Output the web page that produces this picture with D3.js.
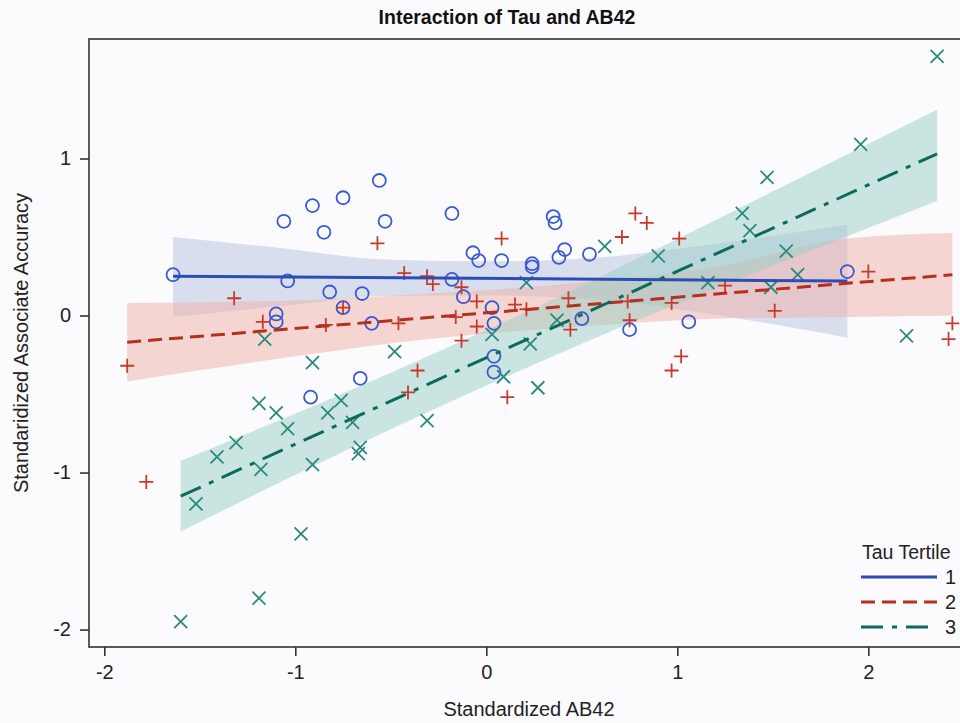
<!DOCTYPE html>
<html>
<head>
<meta charset="utf-8">
<script src="https://cdn.jsdelivr.net/npm/d3@7"></script>
<style>
body { margin: 0; background: #fbfbfd; }
text { font-family: Arial, "Liberation Sans", sans-serif; fill: #222; }
</style>
</head>
<body>
<svg id="chart" width="960" height="723"></svg>
<script>
// values
var xTicks = [-2, -1, 0, 1, 2];
var yTicks = [-2, -1, 0, 1];
var tertiles = ["1", "2", "3"];

var t1X = [-1.64,-1.04,-1.06,-0.91,-0.85,-0.75,-0.56,-0.53,-0.82,-0.65,-0.75,-1.10,-1.10,-0.60,-0.66,-0.92,-0.18,0.35,0.36,-0.07,-0.04,0.08,0.24,0.24,0.38,0.41,0.54,-0.18,-0.12,0.03,0.04,0.04,0.04,0.50,0.75,1.06,1.89];
var t1Y = [0.26,0.22,0.60,0.70,0.53,0.75,0.86,0.60,0.15,0.14,0.05,0.01,-0.04,-0.05,-0.40,-0.52,0.65,0.63,0.59,0.40,0.35,0.35,0.33,0.31,0.37,0.42,0.39,0.23,0.12,0.05,-0.05,-0.26,-0.36,-0.02,-0.09,-0.04,0.28];

var t2X = [-0.57,-1.32,-1.88,-1.17,-0.75,-0.84,-1.78,0.08,0.78,0.84,0.71,1.01,-0.43,-0.31,-0.28,-0.13,-0.05,0.15,0.21,-0.16,-0.46,-0.05,-0.13,-0.36,0.43,0.44,0.74,0.75,0.97,-0.41,0.11,1.02,0.97,1.25,1.51,2.00,2.44,2.42];
var t2Y = [0.46,0.11,-0.32,-0.04,0.05,-0.06,-1.06,0.49,0.65,0.59,0.50,0.49,0.27,0.25,0.20,0.18,0.09,0.07,0.04,-0.01,-0.05,-0.07,-0.16,-0.35,0.11,-0.09,0.09,-0.03,0.08,-0.49,-0.52,-0.26,-0.35,0.19,0.03,0.28,-0.05,-0.15];

var t3X = [2.36,1.96,1.47,1.34,1.38,1.57,1.63,1.49,1.16,2.20,0.62,0.90,0.21,0.37,0.03,0.23,-0.48,0.09,0.27,-0.31,-1.16,-0.91,-1.19,-1.10,-1.04,-0.83,-0.76,-0.70,-1.31,-1.41,-1.18,-0.91,-0.66,-0.67,-1.52,-0.97,-1.19,-1.60];
var t3Y = [1.65,1.09,0.88,0.65,0.54,0.41,0.26,0.18,0.21,-0.13,0.44,0.38,0.21,-0.03,-0.12,-0.18,-0.23,-0.39,-0.46,-0.67,-0.15,-0.30,-0.56,-0.62,-0.72,-0.62,-0.54,-0.68,-0.81,-0.90,-0.98,-0.95,-0.84,-0.88,-1.20,-1.39,-1.80,-1.95];

// regression lines (end points)
var fit1X = [-1.64, 1.89], fit1Y = [0.25, 0.22];
var fit2X = [-1.88, 2.44], fit2Y = [-0.17, 0.26];
var fit3X = [-1.60, 2.36], fit3Y = [-1.15, 1.03];

// confidence bands
var band1X  = [-1.64,-1.08,-0.51,0.02,0.59,1.22,1.89];
var band1Hi = [0.50,0.43,0.355,0.345,0.37,0.46,0.58];
var band1Lo = [-0.01,0.06,0.125,0.127,0.10,0.0,-0.14];
var band2X  = [-1.88,-1.0,-0.3,0.5,1.2,1.89,2.44];
var band2Hi = [0.08,0.095,0.14,0.21,0.31,0.49,0.525];
var band2Lo = [-0.42,-0.26,-0.15,-0.07,-0.02,-0.01,0.0];
var band3X  = [-1.60,-0.5,0.5,1.4,2.36];
var band3Hi = [-0.925,-0.365,0.19,0.73,1.31];
var band3Lo = [-1.375,-0.725,-0.18,0.27,0.73];

var svg = d3.select("#chart");
var pLeft = 89, pRight = 969, pTop = 39, pBottom = 647;

var x = d3.scaleLinear().domain([-2.08, 2.527]).range([pLeft, pRight]);
var y = d3.scaleLinear().domain([-2.111, 1.761]).range([pBottom, pTop]);

var groups = [
  {id: "1", xs: t1X, ys: t1Y, fx: fit1X, fy: fit1Y, bx: band1X, lo: band1Lo, hi: band1Hi,
   band: "#b6c2e0", marker: "#3a5ad0", line: "#2c4db3", dash: null, shape: "circle"},
  {id: "2", xs: t2X, ys: t2Y, fx: fit2X, fy: fit2Y, bx: band2X, lo: band2Lo, hi: band2Hi,
   band: "#efb0a6", marker: "#c63b2b", line: "#b5301f", dash: "14,7", shape: "plus"},
  {id: "3", xs: t3X, ys: t3Y, fx: fit3X, fy: fit3Y, bx: band3X, lo: band3Lo, hi: band3Hi,
   band: "#9ad0c5", marker: "#2b8a7c", line: "#0d6a5a", dash: "22,9,5,9", shape: "times"}
];

svg.append("text")
  .attr("x", 507).attr("y", 24)
  .attr("text-anchor", "middle")
  .style("font-size", "19.5px").style("font-weight", "bold")
  .style("fill", "#111")
  .text("Interaction of Tau and AB42");

svg.append("clipPath").attr("id", "plotclip")
  .append("rect").attr("x", pLeft).attr("y", pTop)
  .attr("width", pRight - pLeft).attr("height", pBottom - pTop);

var plot = svg.append("g").attr("clip-path", "url(#plotclip)");

var area = d3.area()
  .x(function(d) { return x(d[0]); })
  .y0(function(d) { return y(d[1]); })
  .y1(function(d) { return y(d[2]); })
  .curve(d3.curveMonotoneX);

groups.forEach(function(g) {
  plot.append("path")
    .datum(d3.zip(g.bx, g.lo, g.hi))
    .attr("d", area)
    .attr("fill", g.band)
    .attr("fill-opacity", 0.5);
});

var shapes = {
  circle: d3.symbol(d3.symbolCircle, Math.PI * 42)(),
  plus: "M-7,0H7M0,-7V7",
  times: "M-6.5,-6.5L6.5,6.5M-6.5,6.5L6.5,-6.5"
};

groups.forEach(function(g) {
  plot.append("g").selectAll("path")
    .data(d3.zip(g.xs, g.ys))
    .enter().append("path")
    .attr("transform", function(d) { return "translate(" + x(d[0]) + "," + y(d[1]) + ")"; })
    .attr("d", shapes[g.shape])
    .attr("fill", "none")
    .attr("stroke", g.marker)
    .attr("stroke-width", 1.8);
});

var line = d3.line()
  .x(function(d) { return x(d[0]); })
  .y(function(d) { return y(d[1]); });

groups.forEach(function(g) {
  plot.append("path")
    .datum(d3.zip(g.fx, g.fy))
    .attr("d", line)
    .attr("fill", "none")
    .attr("stroke", g.line)
    .attr("stroke-width", 3)
    .attr("stroke-dasharray", g.dash);
});

// frame
svg.append("rect")
  .attr("x", pLeft).attr("y", pTop)
  .attr("width", pRight - pLeft).attr("height", pBottom - pTop)
  .attr("fill", "none").attr("stroke", "#333").attr("stroke-width", 1.6);

var xAxis = svg.append("g")
  .attr("transform", "translate(0," + pBottom + ")")
  .call(d3.axisBottom(x).tickValues(xTicks).tickSize(9).tickPadding(9)
    .tickFormat(function(d) { return String(d); }));
var yAxis = svg.append("g")
  .attr("transform", "translate(" + pLeft + ",0)")
  .call(d3.axisLeft(y).tickValues(yTicks).tickSize(9).tickPadding(9)
    .tickFormat(function(d) { return String(d); }));

[xAxis, yAxis].forEach(function(a) {
  a.select(".domain").remove();
  a.selectAll("line").attr("stroke", "#333").attr("stroke-width", 1.6);
  a.selectAll("text").style("font-size", "20px").style("font-family", "Arial, 'Liberation Sans', sans-serif").attr("fill", "#222");
});

svg.append("text")
  .attr("x", (pLeft + pRight) / 2).attr("y", 716)
  .attr("text-anchor", "middle")
  .style("font-size", "20px")
  .text("Standardized AB42");

svg.append("text")
  .attr("transform", "translate(28," + ((pTop + pBottom) / 2) + ") rotate(-90)")
  .attr("text-anchor", "middle")
  .style("font-size", "20px")
  .text("Standaridized Associate Accuracy");

// legend
var legend = svg.append("g");
legend.append("text")
  .attr("x", 862).attr("y", 559)
  .style("font-size", "19.5px")
  .text("Tau Tertile");

var item = legend.selectAll(".item")
  .data(groups)
  .enter().append("g")
  .attr("class", "item")
  .attr("transform", function(d, i) { return "translate(0," + (577 + i * 25) + ")"; });

item.append("line")
  .attr("x1", 861).attr("x2", 937)
  .attr("stroke", function(d) { return d.line; })
  .attr("stroke-width", 3)
  .attr("stroke-dasharray", function(d) { return d.dash; });

item.append("text")
  .attr("x", 945).attr("y", 7)
  .style("font-size", "20px")
  .text(function(d, i) { return tertiles[i]; });
</script>
</body>
</html>
